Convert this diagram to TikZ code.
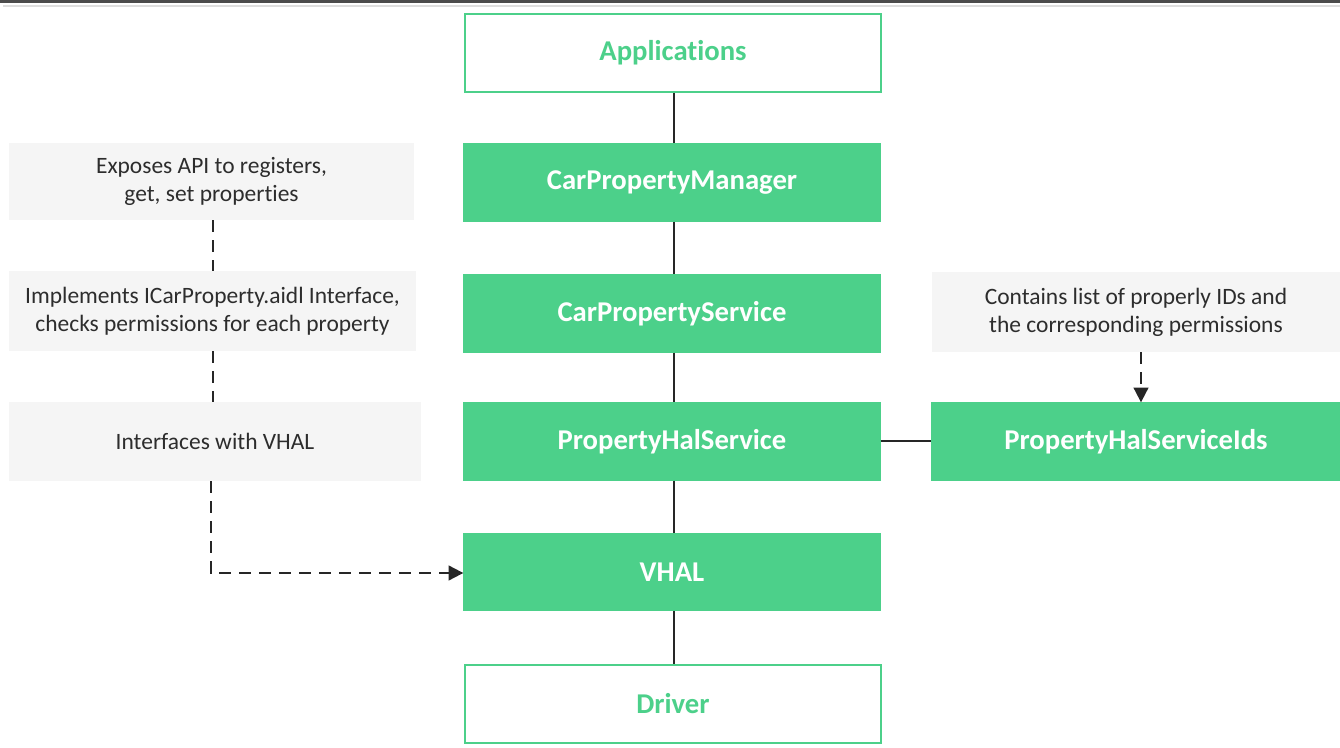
\documentclass[tikz,border=0pt]{standalone}
\usepackage{fontspec}
\setmainfont{Carlito}[Ligatures={NoCommon}]
\usetikzlibrary{arrows.meta}
\definecolor{cgreen}{RGB}{76,208,138}
\definecolor{cgray}{RGB}{245,245,245}
\definecolor{ctext}{RGB}{45,45,45}
\tikzset{
  greenbox/.style={draw=cgreen,fill=cgreen,line width=1pt,inner sep=0pt,text=white,
    font=\fontsize{21.5}{24}\selectfont\bfseries,minimum width=312pt,minimum height=57.75pt},
  whitebox/.style={draw=cgreen,fill=white,line width=1.5pt,inner sep=0pt,text=cgreen,
    font=\fontsize{21.5}{24}\selectfont\bfseries,minimum width=312pt,minimum height=58.5pt},
  notebox/.style={fill=cgray,inner sep=0pt,text=ctext,align=center,
    font=\fontsize{17.6}{21}\selectfont},
  solidlink/.style={draw=black!85,line width=1.5pt},
  dashlink/.style={draw=black!85,line width=1.5pt,dash pattern=on 9pt off 6pt},
  dasharrow/.style={dashlink,-{Triangle[length=11pt,width=11pt]}}
}
\begin{document}
\begin{tikzpicture}[x=0.75pt,y=-0.75pt]
\useasboundingbox (0,0) rectangle (1340,748);
\fill[black!70] (0,0) rectangle (1340,3);
\fill[black!13] (3,5) rectangle (1340,7.5);
% main column
\node[whitebox] (app) at (673,53) {Applications};
\node[greenbox] (cpm) at (672,182.5) {CarPropertyManager};
\node[greenbox] (cps) at (672,313.5) {CarPropertyService};
\node[greenbox] (phs) at (672,441.5) {PropertyHalService};
\node[greenbox] (vhal) at (672,572) {VHAL};
\node[whitebox] (drv) at (673,704) {Driver};
\node[greenbox,minimum width=306pt] (ids) at (1136,441.5) {PropertyHalServiceIds};
% notes
\node[notebox,minimum width=303.75pt,minimum height=57.75pt] (n1) at (211.5,181.5) {Exposes API to registers,\\get, set properties};
\node[notebox,minimum width=305.25pt,minimum height=60pt] (n2) at (212.5,311) {Implements ICarProperty.aidl Interface,\\checks permissions for each property};
\node[notebox,minimum width=309pt,minimum height=59.25pt] (n3) at (215,441.5) {Interfaces with VHAL};
\node[notebox,minimum width=306pt,minimum height=60pt] (n4) at (1136,312) {Contains list of properly IDs and\\the corresponding permissions};
% solid connectors
\coordinate (cx) at (674,0);
\draw[solidlink] (app.south -| cx) -- (cpm.north -| cx);
\draw[solidlink] (cpm.south -| cx) -- (cps.north -| cx);
\draw[solidlink] (cps.south -| cx) -- (phs.north -| cx);
\draw[solidlink] (phs.south -| cx) -- (vhal.north -| cx);
\draw[solidlink] (vhal.south -| cx) -- (drv.north -| cx);
\draw[solidlink] (phs.east) -- (ids.west);
% dashed connectors
\coordinate (dx) at (213,0);
\coordinate (ex) at (211,0);
\draw[dashlink] (n1.south -| dx) -- (n2.north -| dx);
\draw[dashlink] (n2.south -| dx) -- (n3.north -| dx);
\coordinate (corner) at (211,573);
\draw[dasharrow] (n3.south -| ex) -- (corner) -- (vhal.west |- corner);
\coordinate (rx) at (1141,0);
\draw[dasharrow] (n4.south -| rx) -- (ids.north -| rx);
\end{tikzpicture}
\end{document}
